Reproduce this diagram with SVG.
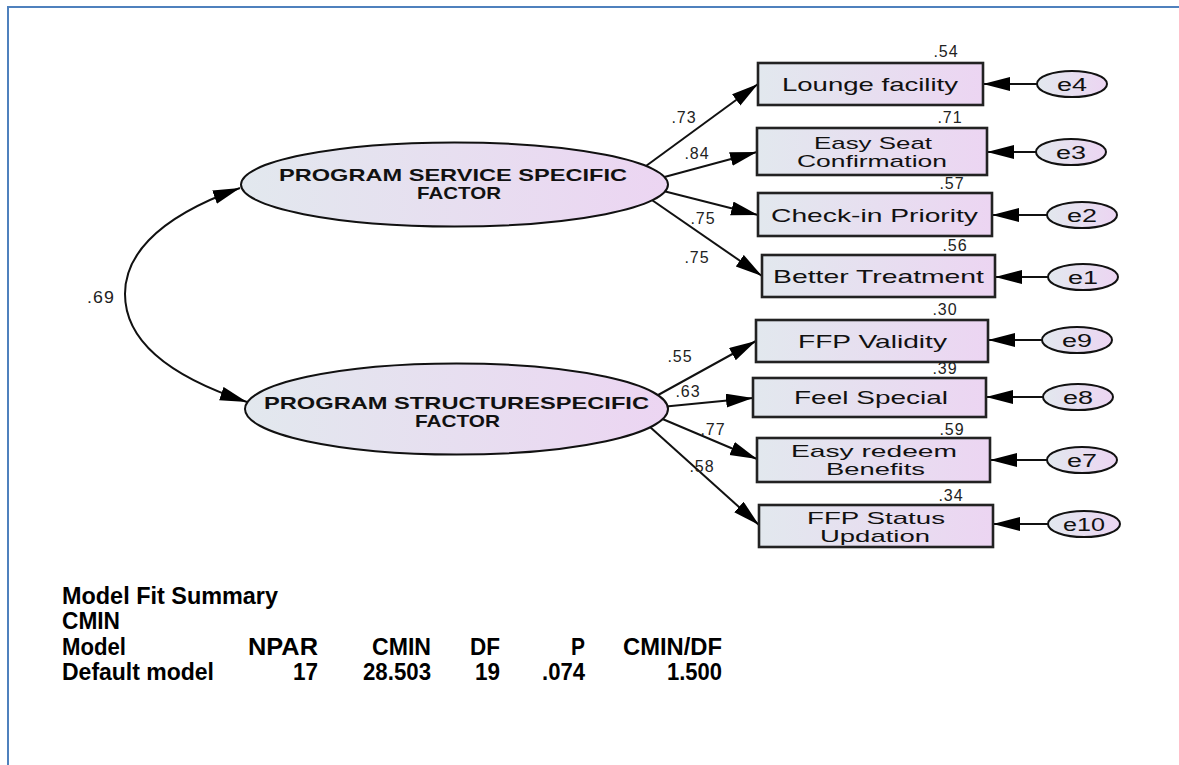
<svg xmlns="http://www.w3.org/2000/svg" width="1179" height="765" viewBox="0 0 1179 765">
  <style>
    .lbl { font-family: "Liberation Sans", Arial, sans-serif; fill: #111; }
    .fac { font-family: "Liberation Sans", Arial, sans-serif; font-weight: bold; font-size: 17px; fill: #111; }
    .ind { font-size: 19px; }
    .ind2 { font-size: 17px; }
    .err { font-size: 18px; }
    .num { font-size: 16px; letter-spacing: 1px; fill: #222; }
    .tbl { font-family: "Liberation Sans", Arial, sans-serif; font-weight: bold; font-size: 24px; fill: #000; }
    .node { fill: url(#grad); stroke: #111; stroke-width: 2; }
    .box { fill: url(#grad); stroke: #222; stroke-width: 2.6; }
    .path { fill: none; stroke: #111; stroke-width: 2; }
  </style>
  <defs>
    <linearGradient id="grad" x1="0" y1="0" x2="1" y2="0">
      <stop offset="0" stop-color="#e2e8ee"/>
      <stop offset="1" stop-color="#ecd5f2"/>
    </linearGradient>
    <marker id="arrow" markerUnits="userSpaceOnUse" markerWidth="28" markerHeight="16" refX="27" refY="7" orient="auto-start-reverse">
      <path d="M0,0 L27,7 L0,14 Z" fill="#000"/>
    </marker>
  </defs>

  <!-- frame -->
  <polyline points="8,765 8,7 1179,7" fill="none" stroke="#4f81bd" stroke-width="2"/>

  <!-- connectors -->
  <g id="connectors">
    <!-- covariance between factors -->
    <path class="path" d="M240,188 C150,220 125,260 125,294 C125,330 150,370 247,402" marker-start="url(#arrow)" marker-end="url(#arrow)"/>
    <!-- service factor loadings -->
    <line class="path" x1="620" y1="185" x2="758" y2="84" marker-end="url(#arrow)"/>
    <line class="path" x1="620" y1="189" x2="757" y2="152" marker-end="url(#arrow)"/>
    <line class="path" x1="620" y1="180" x2="758" y2="215" marker-end="url(#arrow)"/>
    <line class="path" x1="620" y1="178" x2="762" y2="276" marker-end="url(#arrow)"/>
    <!-- structure factor loadings -->
    <line class="path" x1="620" y1="416" x2="756" y2="341" marker-end="url(#arrow)"/>
    <line class="path" x1="620" y1="411" x2="753" y2="398" marker-end="url(#arrow)"/>
    <line class="path" x1="620" y1="401" x2="757" y2="459" marker-end="url(#arrow)"/>
    <line class="path" x1="620" y1="400" x2="759" y2="525" marker-end="url(#arrow)"/>
    <!-- error terms -->
    <line class="path" x1="1072" y1="84" x2="983" y2="84" marker-end="url(#arrow)"/>
    <line class="path" x1="1071" y1="152" x2="987" y2="152" marker-end="url(#arrow)"/>
    <line class="path" x1="1082" y1="215" x2="992" y2="215" marker-end="url(#arrow)"/>
    <line class="path" x1="1083" y1="277" x2="995" y2="277" marker-end="url(#arrow)"/>
    <line class="path" x1="1077" y1="340" x2="988" y2="340" marker-end="url(#arrow)"/>
    <line class="path" x1="1078" y1="397" x2="986" y2="397" marker-end="url(#arrow)"/>
    <line class="path" x1="1082" y1="460" x2="990" y2="460" marker-end="url(#arrow)"/>
    <line class="path" x1="1083" y1="524" x2="993" y2="524" marker-end="url(#arrow)"/>
  </g>

  <!-- path coefficients -->
  <g id="coefficients" class="lbl num" text-anchor="middle">
    <text x="87" y="303" textLength="28" lengthAdjust="spacingAndGlyphs" text-anchor="start">.69</text>
    <text x="684" y="123">.73</text>
    <text x="697" y="159">.84</text>
    <text x="703" y="224">.75</text>
    <text x="697" y="263">.75</text>
    <text x="680" y="362">.55</text>
    <text x="688" y="397">.63</text>
    <text x="713" y="435">.77</text>
    <text x="702" y="472">.58</text>
    <!-- squared multiple correlations -->
    <text x="946" y="57">.54</text>
    <text x="950" y="123">.71</text>
    <text x="952" y="189">.57</text>
    <text x="955" y="251">.56</text>
    <text x="945" y="315">.30</text>
    <text x="945" y="374">.39</text>
    <text x="952" y="435">.59</text>
    <text x="951" y="501">.34</text>
  </g>

  <!-- latent factors -->
  <g id="service-factor">
    <ellipse class="node" cx="454.5" cy="184.5" rx="213.5" ry="42"/>
    <text class="fac" x="279" y="181" textLength="348" lengthAdjust="spacingAndGlyphs">PROGRAM SERVICE SPECIFIC</text>
    <text class="fac" x="417" y="199" textLength="84" lengthAdjust="spacingAndGlyphs">FACTOR</text>
  </g>
  <g id="structure-factor">
    <ellipse class="node" cx="456.5" cy="409" rx="211.5" ry="45.5"/>
    <text class="fac" x="264" y="409" textLength="385" lengthAdjust="spacingAndGlyphs">PROGRAM STRUCTURESPECIFIC</text>
    <text class="fac" x="415" y="427" textLength="85" lengthAdjust="spacingAndGlyphs">FACTOR</text>
  </g>

  <!-- observed indicators -->
  <g id="lounge-facility">
    <rect class="box" x="758" y="63" width="225" height="42"/>
    <text class="lbl ind" x="782" y="91" textLength="176" lengthAdjust="spacingAndGlyphs">Lounge facility</text>
  </g>
  <g id="easy-seat-confirmation">
    <rect class="box" x="757" y="128" width="230" height="47"/>
    <text class="lbl ind2" x="814" y="149" textLength="118" lengthAdjust="spacingAndGlyphs">Easy Seat</text>
    <text class="lbl ind2" x="797" y="167" textLength="150" lengthAdjust="spacingAndGlyphs">Confirmation</text>
  </g>
  <g id="check-in-priority">
    <rect class="box" x="758" y="193" width="234" height="43"/>
    <text class="lbl ind" x="771" y="222" textLength="207" lengthAdjust="spacingAndGlyphs">Check-in Priority</text>
  </g>
  <g id="better-treatment">
    <rect class="box" x="762" y="255" width="233" height="42"/>
    <text class="lbl ind" x="773" y="283" textLength="211" lengthAdjust="spacingAndGlyphs">Better Treatment</text>
  </g>
  <g id="ffp-validity">
    <rect class="box" x="756" y="320" width="232" height="42"/>
    <text class="lbl ind" x="798" y="348" textLength="149" lengthAdjust="spacingAndGlyphs">FFP Validity</text>
  </g>
  <g id="feel-special">
    <rect class="box" x="753" y="378" width="233" height="39"/>
    <text class="lbl ind" x="794" y="404" textLength="154" lengthAdjust="spacingAndGlyphs">Feel Special</text>
  </g>
  <g id="easy-redeem-benefits">
    <rect class="box" x="757" y="438" width="233" height="44"/>
    <text class="lbl ind2" x="791" y="457" textLength="166" lengthAdjust="spacingAndGlyphs">Easy redeem</text>
    <text class="lbl ind2" x="826" y="475" textLength="99" lengthAdjust="spacingAndGlyphs">Benefits</text>
  </g>
  <g id="ffp-status-updation">
    <rect class="box" x="759" y="505" width="234" height="42"/>
    <text class="lbl ind2" x="807" y="524" textLength="138" lengthAdjust="spacingAndGlyphs">FFP Status</text>
    <text class="lbl ind2" x="820" y="542" textLength="110" lengthAdjust="spacingAndGlyphs">Updation</text>
  </g>

  <!-- error terms -->
  <g id="e4"><ellipse class="node" cx="1072" cy="84" rx="35" ry="13"/><text class="lbl err" x="1057" y="91" textLength="30" lengthAdjust="spacingAndGlyphs">e4</text></g>
  <g id="e3"><ellipse class="node" cx="1071" cy="152" rx="35" ry="13"/><text class="lbl err" x="1056" y="159" textLength="30" lengthAdjust="spacingAndGlyphs">e3</text></g>
  <g id="e2"><ellipse class="node" cx="1082" cy="215" rx="35" ry="13"/><text class="lbl err" x="1067" y="222" textLength="30" lengthAdjust="spacingAndGlyphs">e2</text></g>
  <g id="e1"><ellipse class="node" cx="1083" cy="277" rx="35" ry="13"/><text class="lbl err" x="1068" y="284" textLength="30" lengthAdjust="spacingAndGlyphs">e1</text></g>
  <g id="e9"><ellipse class="node" cx="1077" cy="340" rx="35" ry="13"/><text class="lbl err" x="1062" y="347" textLength="30" lengthAdjust="spacingAndGlyphs">e9</text></g>
  <g id="e8"><ellipse class="node" cx="1078" cy="397" rx="35" ry="13"/><text class="lbl err" x="1063" y="404" textLength="30" lengthAdjust="spacingAndGlyphs">e8</text></g>
  <g id="e7"><ellipse class="node" cx="1082" cy="460" rx="35" ry="13"/><text class="lbl err" x="1067" y="467" textLength="30" lengthAdjust="spacingAndGlyphs">e7</text></g>
  <g id="e10"><ellipse class="node" cx="1084" cy="524" rx="36" ry="13"/><text class="lbl err" x="1063" y="531" textLength="42" lengthAdjust="spacingAndGlyphs">e10</text></g>

  <!-- model fit summary -->
  <g id="fit-summary" class="tbl">
    <text x="62" y="604" textLength="216" lengthAdjust="spacingAndGlyphs">Model Fit Summary</text>
    <text x="62" y="629" textLength="58" lengthAdjust="spacingAndGlyphs">CMIN</text>
    <text x="62" y="655" textLength="64" lengthAdjust="spacingAndGlyphs">Model</text>
    <text x="248" y="655" textLength="70" lengthAdjust="spacingAndGlyphs">NPAR</text>
    <text x="372" y="655" textLength="59" lengthAdjust="spacingAndGlyphs">CMIN</text>
    <text x="470" y="655" textLength="30" lengthAdjust="spacingAndGlyphs">DF</text>
    <text x="571" y="655" textLength="14" lengthAdjust="spacingAndGlyphs">P</text>
    <text x="623" y="655" textLength="99" lengthAdjust="spacingAndGlyphs">CMIN/DF</text>
    <text x="62" y="680" textLength="152" lengthAdjust="spacingAndGlyphs">Default model</text>
    <text x="293" y="680" textLength="25" lengthAdjust="spacingAndGlyphs">17</text>
    <text x="363" y="680" textLength="68" lengthAdjust="spacingAndGlyphs">28.503</text>
    <text x="475" y="680" textLength="25" lengthAdjust="spacingAndGlyphs">19</text>
    <text x="542" y="680" textLength="43" lengthAdjust="spacingAndGlyphs">.074</text>
    <text x="667" y="680" textLength="55" lengthAdjust="spacingAndGlyphs">1.500</text>
  </g>
</svg>
